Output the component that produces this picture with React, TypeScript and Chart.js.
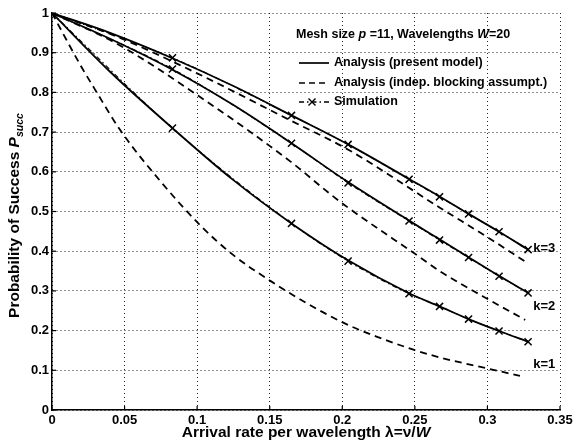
import React, { useEffect, useRef } from "react";
import { Chart, registerables } from "chart.js";
Chart.register(...registerables);

// ---- Data ----
const xTicks = [0, 0.05, 0.1, 0.15, 0.2, 0.25, 0.3, 0.35];
const yTicks = [0, 0.1, 0.2, 0.3, 0.4, 0.5, 0.6, 0.7, 0.8, 0.9, 1];

// Simulation points (x markers)
const simX = [0, 0.083, 0.165, 0.204, 0.246, 0.267, 0.287, 0.308, 0.328];
const simK3 = [1, 0.887, 0.742, 0.669, 0.581, 0.537, 0.494, 0.449, 0.404];
const simK2 = [1, 0.859, 0.672, 0.572, 0.476, 0.428, 0.384, 0.337, 0.295];
const simK1 = [1, 0.71, 0.47, 0.375, 0.293, 0.261, 0.229, 0.199, 0.172];

// Analysis (present model) - solid
const modelX = [0, 0.04, 0.083, 0.125, 0.165, 0.204, 0.246, 0.267, 0.287, 0.308, 0.328];
const modelK3 = [1, 0.95, 0.886, 0.816, 0.742, 0.669, 0.582, 0.538, 0.494, 0.449, 0.404];
const modelK2 = [1, 0.935, 0.857, 0.768, 0.672, 0.574, 0.477, 0.43, 0.385, 0.338, 0.295];
const modelK1 = [1, 0.852, 0.71, 0.579, 0.47, 0.377, 0.294, 0.261, 0.229, 0.199, 0.172];

// Analysis (indep. blocking assumption) - dashed
const indepX1 = [0, 0.01, 0.02, 0.03, 0.047, 0.075, 0.103, 0.125, 0.151, 0.175, 0.2035, 0.225, 0.249, 0.2675, 0.2995, 0.3224];
const indepK1 = [1, 0.932, 0.866, 0.805, 0.705, 0.575, 0.462, 0.39, 0.324, 0.27, 0.215, 0.183, 0.152, 0.132, 0.105, 0.086];
const indepX2 = [0, 0.045, 0.1006, 0.1646, 0.192, 0.2035, 0.2526, 0.2675, 0.297, 0.326];
const indepK2 = [1, 0.922, 0.792, 0.625, 0.543, 0.511, 0.387, 0.349, 0.286, 0.227];
const indepX3 = [0, 0.045, 0.1, 0.165, 0.2035, 0.2675, 0.3006, 0.326];
const indepK3 = [1, 0.94, 0.848, 0.728, 0.657, 0.509, 0.434, 0.374];

const kLabels = ["k=3", "k=2", "k=1"];
const kLabelX = [0.3315, 0.3315, 0.3315];
const kLabelY = [0.407, 0.26, 0.114];

const legendItems = ["Analysis (present model)", "Analysis (indep. blocking assumpt.)", "Simulation"];

const FONT = '"Liberation Sans", Arial, Helvetica, sans-serif';
const FS = 12.5;
const TICK_FS = 13;
const TITLE_FS = 15.5;

const pts = (xs: number[], ys: number[]) => xs.map((x, i) => ({ x, y: ys[i] }));

type Run = { t: string; it?: boolean; sub?: boolean };
function drawRuns(ctx: CanvasRenderingContext2D, runs: Run[], x: number, y: number, size: number, align: "left" | "center") {
  const fontFor = (r: Run) => `${r.it ? "italic " : ""}bold ${r.sub ? size * 0.68 : size}px ${FONT}`;
  const widths = runs.map((r) => {
    ctx.font = fontFor(r);
    return ctx.measureText(r.t).width;
  });
  const total = widths.reduce((a, b) => a + b, 0);
  let cx = align === "center" ? x - total / 2 : x;
  ctx.textAlign = "left";
  ctx.textBaseline = "middle";
  runs.forEach((r, i) => {
    ctx.font = fontFor(r);
    ctx.fillText(r.t, cx, r.sub ? y + size * 0.32 : y);
    cx += widths[i];
  });
}

function drawX(ctx: CanvasRenderingContext2D, x: number, y: number, r: number) {
  ctx.beginPath();
  ctx.moveTo(x - r, y - r);
  ctx.lineTo(x + r, y + r);
  ctx.moveTo(x - r, y + r);
  ctx.lineTo(x + r, y - r);
  ctx.stroke();
}

const overlayPlugin = {
  id: "overlay",
  afterDraw(chart: any) {
    const ctx: CanvasRenderingContext2D = chart.ctx;
    const { left, right, top, bottom } = chart.chartArea;
    const xs = chart.scales.x;
    const ys = chart.scales.y;
    ctx.save();
    ctx.fillStyle = "#000";
    ctx.strokeStyle = "#000";
    // inward tick marks
    ctx.lineWidth = 1.2;
    ctx.setLineDash([]);
    yTicks.forEach((v) => {
      const py = ys.getPixelForValue(v);
      ctx.beginPath();
      ctx.moveTo(left, py);
      ctx.lineTo(left + 4, py);
      ctx.stroke();
    });
    xTicks.forEach((v) => {
      const px = xs.getPixelForValue(v);
      ctx.beginPath();
      ctx.moveTo(px, bottom);
      ctx.lineTo(px, bottom - 4);
      ctx.stroke();
    });

    // axis titles
    drawRuns(
      ctx,
      [{ t: "Arrival rate per wavelength λ=ν/" }, { t: "W", it: true }],
      (left + right) / 2,
      433,
      TITLE_FS,
      "center"
    );
    ctx.save();
    ctx.translate(15, (top + bottom) / 2 + 4);
    ctx.rotate(-Math.PI / 2);
    drawRuns(
      ctx,
      [{ t: "Probability of Success " }, { t: "P", it: true }, { t: "succ", it: true, sub: true }],
      0,
      0,
      TITLE_FS,
      "center"
    );
    ctx.restore();

    // k labels
    kLabels.forEach((t, i) => {
      drawRuns(ctx, [{ t }], xs.getPixelForValue(kLabelX[i]), ys.getPixelForValue(kLabelY[i]), TICK_FS, "left");
    });

    // legend
    const lx0 = 299;
    const lx1 = 329;
    const tx = 334;
    drawRuns(
      ctx,
      [{ t: "Mesh size " }, { t: "p", it: true }, { t: " =11, Wavelengths " }, { t: "W", it: true }, { t: "=20" }],
      296,
      35,
      FS,
      "left"
    );
    const rowsY = [63, 83, 102];
    ctx.lineWidth = 1.7;
    ctx.setLineDash([]);
    ctx.beginPath();
    ctx.moveTo(lx0, rowsY[0]);
    ctx.lineTo(lx1, rowsY[0]);
    ctx.stroke();
    ctx.setLineDash([6, 4]);
    ctx.beginPath();
    ctx.moveTo(lx0, rowsY[1]);
    ctx.lineTo(lx1, rowsY[1]);
    ctx.stroke();
    ctx.setLineDash([5, 3, 1.5, 3]);
    ctx.beginPath();
    ctx.moveTo(lx0, rowsY[2]);
    ctx.lineTo(lx1, rowsY[2]);
    ctx.stroke();
    ctx.setLineDash([]);
    ctx.lineWidth = 1.4;
    drawX(ctx, (lx0 + lx1) / 2 - 2, rowsY[2], 3.5);
    legendItems.forEach((t, i) => drawRuns(ctx, [{ t }], tx, rowsY[i], FS, "left"));
    ctx.restore();
  },
};

export default function App() {
  const ref = useRef<HTMLCanvasElement | null>(null);
  useEffect(() => {
    document.body.style.margin = "0";
    const canvas = ref.current!;
    const solid = (data: any) => ({
      data,
      borderColor: "#000",
      borderWidth: 1.8,
      pointRadius: 0,
      cubicInterpolationMode: "monotone" as const,
      fill: false,
    });
    const dashed = (data: any) => ({
      data,
      borderColor: "#000",
      borderWidth: 1.8,
      borderDash: [7, 5],
      pointRadius: 0,
      cubicInterpolationMode: "monotone" as const,
      fill: false,
    });
    const sim = (data: any) => ({
      data,
      borderColor: "#000",
      borderWidth: 1.1,
      borderDash: [5, 3, 1.5, 3],
      pointStyle: "crossRot",
      pointRadius: (c: any) => (c.dataIndex === 0 ? 0 : 5),
      pointBorderWidth: 1.5,
      pointBorderColor: "#000",
      cubicInterpolationMode: "monotone" as const,
      fill: false,
    });
    const chart = new Chart(canvas, {
      type: "line",
      data: {
        datasets: [
          dashed(pts(indepX1, indepK1)),
          dashed(pts(indepX2, indepK2)),
          dashed(pts(indepX3, indepK3)),
          solid(pts(modelX, modelK1)),
          solid(pts(modelX, modelK2)),
          solid(pts(modelX, modelK3)),
          sim(pts(simX, simK1)),
          sim(pts(simX, simK2)),
          sim(pts(simX, simK3)),
        ] as any,
      },
      options: {
        responsive: false,
        animation: false,
        layout: { padding: { top: 13, right: 19, bottom: 0, left: 0 } },
        plugins: { legend: { display: false }, title: { display: false }, tooltip: { enabled: false } },
        scales: {
          x: {
            type: "linear",
            min: 0,
            max: 0.35,
            afterFit: (s: any) => {
              s.height = 32;
            },
            afterBuildTicks: (s: any) => {
              s.ticks = xTicks.map((v) => ({ value: v }));
            },
            ticks: {
              color: "#000",
              padding: 3,
              maxRotation: 0,
              autoSkip: false,
              font: { family: FONT, size: TICK_FS, weight: "bold" },
              callback: (v: any) => String(Math.round(Number(v) * 100) / 100),
            },
            grid: { color: "#222", lineWidth: 1, drawTicks: false },
            border: { display: true, color: "#000", width: 1.5, dash: [1, 3] },
          },
          y: {
            type: "linear",
            min: 0,
            max: 1,
            afterFit: (s: any) => {
              s.width = 52;
            },
            afterBuildTicks: (s: any) => {
              s.ticks = yTicks.map((v) => ({ value: v }));
            },
            ticks: {
              color: "#000",
              padding: 3,
              autoSkip: false,
              font: { family: FONT, size: TICK_FS, weight: "bold" },
              callback: (v: any) => String(Math.round(Number(v) * 10) / 10),
            },
            grid: { color: "#222", lineWidth: 1, drawTicks: false },
            border: { display: true, color: "#000", width: 1.5, dash: [1, 3] },
          },
        },
      } as any,
      plugins: [overlayPlugin],
    });
    return () => chart.destroy();
  }, []);
  return <canvas ref={ref} width={579} height={442} style={{ display: "block" }} />;
}
